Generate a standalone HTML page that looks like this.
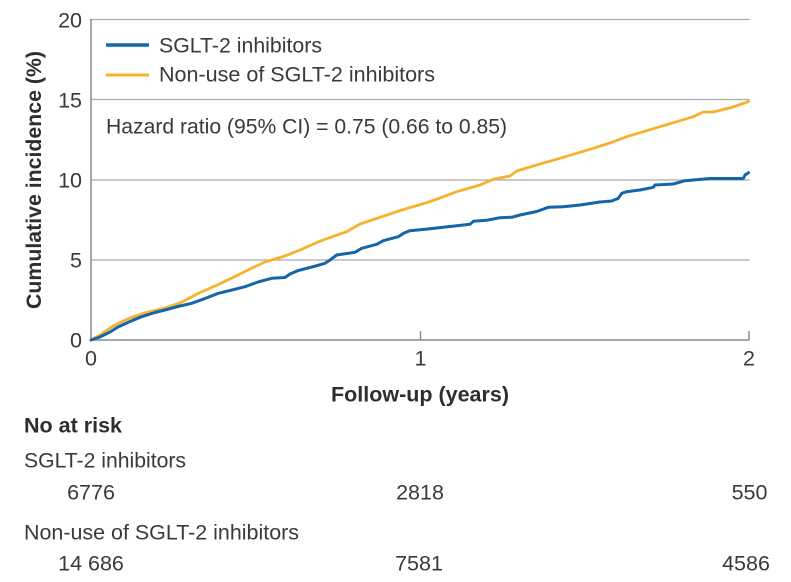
<!DOCTYPE html>
<html>
<head>
<meta charset="utf-8">
<style>
  html, body { margin: 0; padding: 0; background: #ffffff; }
  svg { display: block; }
  text { font-family: "Liberation Sans", "DejaVu Sans", sans-serif; fill: #3a3a3a; }
  .b { font-weight: bold; fill: #2e2e2e; }
</style>
</head>
<body>
<svg width="791" height="582" viewBox="0 0 791 582" xmlns="http://www.w3.org/2000/svg">
  <rect x="0" y="0" width="791" height="582" fill="#ffffff"/>

  <!-- gridlines -->
  <g stroke="#ababab" stroke-width="1.2" fill="none">
    <line x1="91" y1="19.5" x2="749.5" y2="19.5"/>
    <line x1="91" y1="99.5" x2="749.5" y2="99.5"/>
    <line x1="91" y1="180" x2="749.5" y2="180"/>
    <line x1="91" y1="260" x2="749.5" y2="260"/>
  </g>

  <!-- axes -->
  <g stroke="#8a8a8a" stroke-width="1.5" fill="none">
    <line x1="91" y1="19" x2="91" y2="340.5"/>
    <line x1="90.5" y1="340" x2="749.5" y2="340"/>
    <line x1="420.5" y1="331" x2="420.5" y2="340"/>
    <line x1="749" y1="331" x2="749" y2="340"/>
  </g>

  <!-- y tick labels -->
  <g font-size="21.5" text-anchor="end">
    <text x="82" y="27.5">20</text>
    <text x="82" y="107.5">15</text>
    <text x="82" y="187.5">10</text>
    <text x="82" y="267.5">5</text>
    <text x="82" y="347.5">0</text>
  </g>

  <!-- x tick labels -->
  <g font-size="21.5" text-anchor="middle">
    <text x="91" y="365.5">0</text>
    <text x="420.5" y="365.5">1</text>
    <text x="749" y="365.5">2</text>
  </g>

  <!-- axis titles -->
  <text class="b" font-size="21" text-anchor="middle" transform="translate(41,180) rotate(-90)" textLength="258" lengthAdjust="spacingAndGlyphs">Cumulative incidence (%)</text>
  <text class="b" font-size="21" x="420" y="401.5" text-anchor="middle" textLength="178" lengthAdjust="spacingAndGlyphs">Follow-up (years)</text>

  <!-- yellow curve -->
  <polyline fill="none" stroke="#f6b22f" stroke-width="2.8" stroke-linejoin="round" stroke-linecap="round"
    points="91,340 100,335 110,328 118,323.5 130,318 145,313 165,308 180,303 198,293.5 215,286 232,278 250,269 265,262 285,256 300,250 318,242 330,237.5 346.7,231.7 360,224 380,217.3 396.7,211.7 410,207.5 426.7,202.7 440,198 456.7,191.7 480,185 493.3,179.3 510,176 516.7,171 536.7,165 563.3,157.3 590,149.3 610,143 626.7,136.7 660,126.7 693.3,116.7 703.3,112 713.3,112 733.3,107 748.5,101.5"/>

  <!-- blue curve -->
  <polyline fill="none" stroke="#1466a8" stroke-width="3" stroke-linejoin="round" stroke-linecap="round"
    points="91,340 100,337 110,332 118,327 130,321.5 141.7,316.7 155,312.5 165,310 178,306.5 191.7,303.3 205,298.5 218.3,293.3 232,290 245,286.7 258,282 271.7,278.3 285,277.5 290,274 298.3,270.5 312,267 325,263.3 330,260 336.7,255 355,252.3 361.7,248.3 376.7,244.3 383.3,240.7 398.3,236.7 404,233 410,230.7 430,228.7 470,224.3 473.3,221.3 486.7,220.3 500,217.7 511.7,217.3 520,215 536.7,211.5 548.3,207.3 563.3,206.7 580,205 600,202 611.7,201 618.3,198.3 621.7,193.3 626.7,191.7 640,190 653.3,187.3 655,185 673.3,184 685,180.7 710,178.5 743.3,178.5 745,175 748.5,172.7"/>

  <!-- legend -->
  <line x1="106" y1="45" x2="149" y2="45" stroke="#1466a8" stroke-width="3.5"/>
  <line x1="106" y1="75" x2="149" y2="75" stroke="#f6b22f" stroke-width="3"/>
  <text font-size="21.5" x="159" y="52.5" textLength="163" lengthAdjust="spacingAndGlyphs">SGLT-2 inhibitors</text>
  <text font-size="21.5" x="159" y="81.5" textLength="276" lengthAdjust="spacingAndGlyphs">Non-use of SGLT-2 inhibitors</text>

  <text font-size="21.5" x="106" y="133.5" textLength="401" lengthAdjust="spacingAndGlyphs">Hazard ratio (95% CI) = 0.75 (0.66 to 0.85)</text>

  <!-- number at risk -->
  <text class="b" font-size="21" x="24" y="432.5" textLength="98" lengthAdjust="spacingAndGlyphs">No at risk</text>
  <text font-size="21.5" x="24" y="467.5" textLength="162" lengthAdjust="spacingAndGlyphs">SGLT-2 inhibitors</text>
  <g font-size="21.5" text-anchor="middle">
    <text x="91" y="499.5">6776</text>
    <text x="420" y="499.5">2818</text>
    <text x="749.5" y="499.5">550</text>
  </g>
  <text font-size="21.5" x="24" y="539.5" textLength="275" lengthAdjust="spacingAndGlyphs">Non-use of SGLT-2 inhibitors</text>
  <g font-size="21.5" text-anchor="middle">
    <text x="91" y="570.5">14 686</text>
    <text x="419" y="570.5">7581</text>
    <text x="746" y="570.5">4586</text>
  </g>
</svg>
</body>
</html>
